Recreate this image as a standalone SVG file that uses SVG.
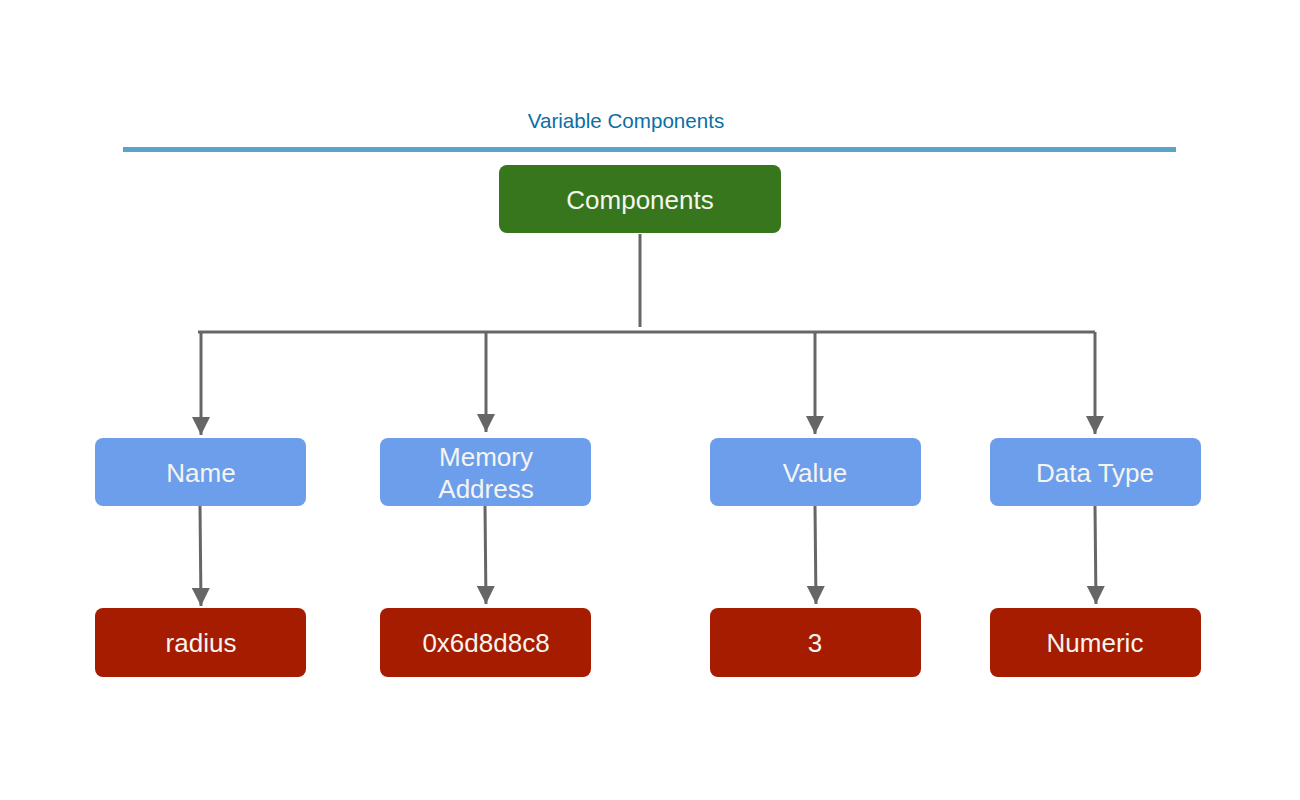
<svg xmlns="http://www.w3.org/2000/svg" width="1300" height="800" viewBox="0 0 1300 800">
  <defs>
    <marker id="arrow" viewBox="0 0 10 10" refX="10" refY="5" markerWidth="6" markerHeight="6" markerUnits="strokeWidth" orient="auto">
      <path d="M0,0 L10,5 L0,10 z" fill="#666666"/>
    </marker>
    <style>
      .title { font-family: "Liberation Sans", Arial, sans-serif; font-size: 20.6px; fill: #0b6fa4; }
      .lbl { font-family: "Liberation Sans", Arial, sans-serif; font-size: 26px; fill: #f5f5f0; text-anchor: middle; }
      .root { fill: #38761d; }
      .comp { fill: #6d9eeb; }
      .val { fill: #a61c00; }
      .conn { stroke: #666666; stroke-width: 3; fill: none; }
    </style>
  </defs>
  <rect width="1300" height="800" fill="#ffffff"/>

  <text class="title" x="626" y="128" text-anchor="middle">Variable Components</text>
  <rect x="123" y="147" width="1053" height="5" fill="#5ba4c8"/>

  <g id="connectors">
    <line class="conn" x1="640" y1="234" x2="640" y2="327"/>
    <line class="conn" x1="198" y1="332" x2="1095" y2="332"/>
    <line class="conn" x1="201" y1="332" x2="201" y2="435" marker-end="url(#arrow)"/>
    <line class="conn" x1="486" y1="332" x2="486" y2="432" marker-end="url(#arrow)"/>
    <line class="conn" x1="815" y1="332" x2="815" y2="434" marker-end="url(#arrow)"/>
    <line class="conn" x1="1095" y1="332" x2="1095" y2="434" marker-end="url(#arrow)"/>
    <line class="conn" x1="200" y1="506" x2="201" y2="606" marker-end="url(#arrow)"/>
    <line class="conn" x1="485" y1="506" x2="486" y2="604" marker-end="url(#arrow)"/>
    <line class="conn" x1="815" y1="506" x2="816" y2="604" marker-end="url(#arrow)"/>
    <line class="conn" x1="1095" y1="506" x2="1096" y2="604" marker-end="url(#arrow)"/>
  </g>

  <g id="components">
    <rect class="root" x="499" y="165" width="282" height="68" rx="8"/>
    <text class="lbl" x="640" y="209">Components</text>
  </g>

  <g id="name">
    <rect class="comp" x="95" y="438" width="211" height="68" rx="8"/>
    <text class="lbl" x="201" y="482">Name</text>
  </g>
  <g id="memory-address">
    <rect class="comp" x="380" y="438" width="211" height="68" rx="8"/>
    <text class="lbl" x="486" y="466">Memory</text>
    <text class="lbl" x="486" y="498">Address</text>
  </g>
  <g id="value">
    <rect class="comp" x="710" y="438" width="211" height="68" rx="8"/>
    <text class="lbl" x="815" y="482">Value</text>
  </g>
  <g id="data-type">
    <rect class="comp" x="990" y="438" width="211" height="68" rx="8"/>
    <text class="lbl" x="1095" y="482">Data Type</text>
  </g>

  <g id="radius">
    <rect class="val" x="95" y="608" width="211" height="69" rx="8"/>
    <text class="lbl" x="201" y="652">radius</text>
  </g>
  <g id="address-value">
    <rect class="val" x="380" y="608" width="211" height="69" rx="8"/>
    <text class="lbl" x="486" y="652">0x6d8d8c8</text>
  </g>
  <g id="three">
    <rect class="val" x="710" y="608" width="211" height="69" rx="8"/>
    <text class="lbl" x="815" y="652">3</text>
  </g>
  <g id="numeric">
    <rect class="val" x="990" y="608" width="211" height="69" rx="8"/>
    <text class="lbl" x="1095" y="652">Numeric</text>
  </g>
</svg>
